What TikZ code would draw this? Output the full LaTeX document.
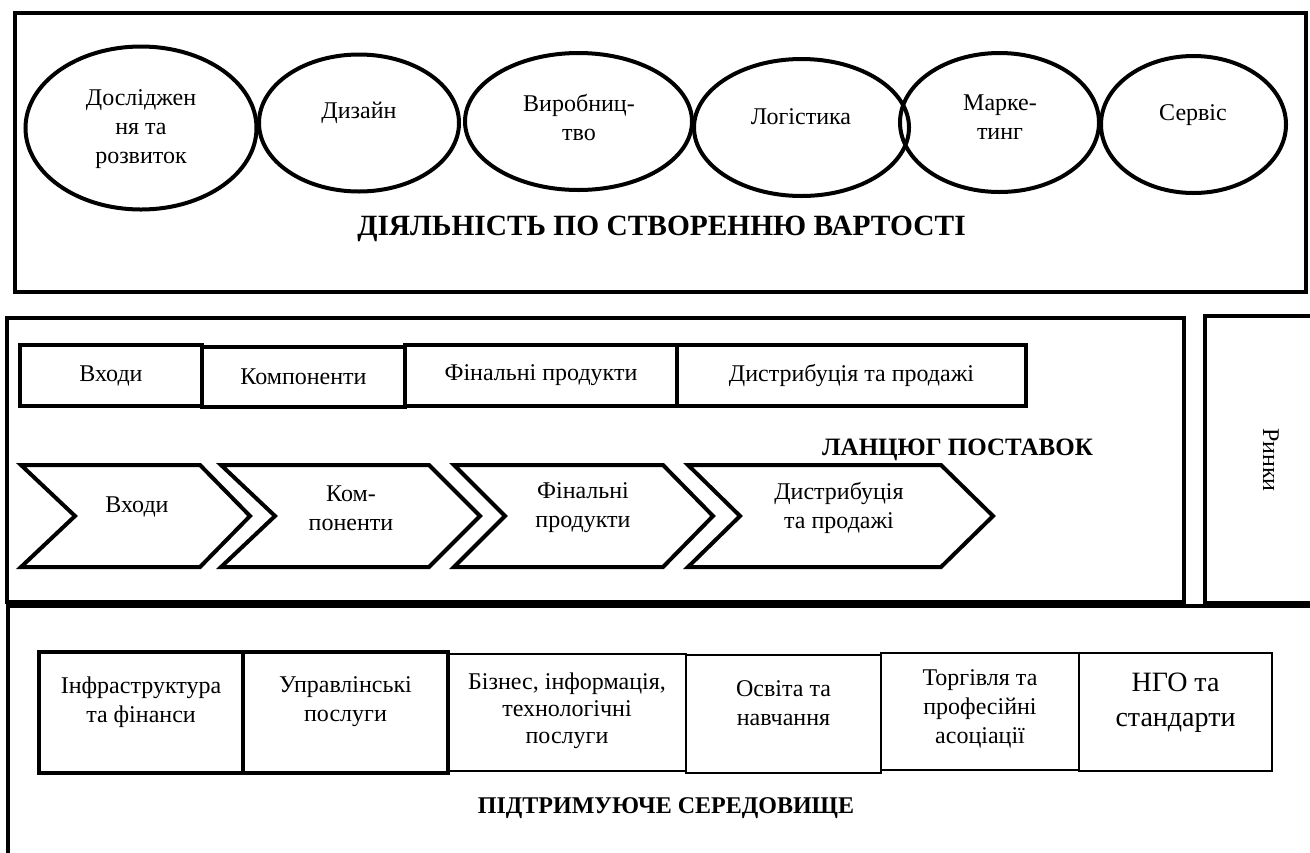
\documentclass[tikz,border=0pt]{standalone}
\usepackage{fontspec}
\setmainfont{Liberation Serif}
\usetikzlibrary{shapes.geometric}

\begin{document}
\begin{tikzpicture}[x=0.5pt, y=-0.5pt,
        font=\fontsize{12}{14.5}\selectfont,
        frame/.style={draw, line width=2.2pt, inner sep=0pt},
        oval/.style={draw, ellipse, line width=2pt, inner sep=0pt},
        stage/.style={draw, line width=2pt, inner sep=0pt},
        chev/.style={draw, line width=2pt, line join=miter},
        sbox/.style={draw, inner sep=0pt},
        txt/.style={align=center, inner sep=0pt},
        hd/.style={inner sep=0pt, font=\fontsize{12}{15}\selectfont\bfseries}]
        \useasboundingbox (0,0) rectangle (1310,852);
        \clip (0,0) rectangle (1310,852);
        % value creation activities
        \node[frame, minimum width=645.5pt, minimum height=139.5pt] (vchain) at (660.5,152.5) {};
        \node[oval, minimum width=115.5pt, minimum height=81.5pt] (rd) at (141,128) {};
        \node[oval, minimum width=100pt, minimum height=68.5pt] (design) at (359,123) {};
        \node[oval, minimum width=113.5pt, minimum height=68.5pt] (prod) at (578.5,121.5) {};
        \node[oval, minimum width=107.5pt, minimum height=68.5pt] (logist) at (801.5,127.5) {};
        \node[oval, minimum width=99.5pt, minimum height=69.5pt] (market) at (999.5,122.5) {};
        \node[oval, minimum width=92.5pt, minimum height=68.5pt] (serv) at (1193.5,124.5) {};
        \node[txt] (rd-t) at (141,129) {Досліджен\\ня та\\розвиток};
        \node[txt] (design-t) at (359,113) {Дизайн};
        \node[txt] (prod-t) at (579,118) {Виробниц-\\тво};
        \node[txt] (logist-t) at (801,117) {Логістика};
        \node[txt] (market-t) at (1000,117) {Марке-\\тинг};
        \node[txt] (serv-t) at (1193,115) {Сервіс};
        \node[hd, font=\fontsize{14.7}{17}\selectfont\bfseries] (vchain-t) at (661.5,229) {ДІЯЛЬНІСТЬ ПО СТВОРЕННЮ ВАРТОСТІ};

        % supply chain
        \node[frame, minimum width=588.5pt, minimum height=142pt] (supply) at (595.5,460) {};
        \node[frame, minimum width=67.5pt, minimum height=143.5pt] (markets) at (1272.5,459.5) {};
        \node[txt, rotate=-90] (markets-t) at (1271,460) {Ринки};
        \node[stage, minimum width=91pt, minimum height=30.5pt] (in-b) at (111,375.5) {Входи};
        \node[stage, minimum width=101.5pt, minimum height=30pt] (comp-b) at (303.5,377) {Компоненти};
        \node[stage, minimum width=136pt, minimum height=30.5pt] (fin-b) at (541,375.5) {Фінальні продукти};
        \node[stage, minimum width=174.5pt, minimum height=30.5pt] (dist-b) at (851.5,375.5) {Дистрибуція та продажі};
        \node[hd, font=\fontsize{12.5}{15}\selectfont\bfseries] (supply-t) at (957.5,450) {ЛАНЦЮГ ПОСТАВОК};
        \draw[chev] (21,465) -- (200,465) -- (250,516) -- (200,567) -- (21,567) -- (75,516) -- cycle;
        \draw[chev] (221,465) -- (429,465) -- (480,516) -- (429,567) -- (221,567) -- (275,516) -- cycle;
        \draw[chev] (454,465) -- (663,465) -- (713,516) -- (663,567) -- (454,567) -- (505,516) -- cycle;
        \draw[chev] (688,465) -- (941,465) -- (993,516) -- (941,567) -- (688,567) -- (740,516) -- cycle;
        \node[txt] (in-c) at (137,507) {Входи};
        \node[txt] (comp-c) at (351,508) {Ком-\\поненти};
        \node[txt] (fin-c) at (583,508) {Фінальні\\продукти};
        \node[txt] (dist-c) at (839,508) {Дистрибуція\\та продажі};

        % supporting environment
        \node[frame, minimum width=666pt, minimum height=137pt] (support) at (674,743) {};
        \node[sbox, line width=2pt, minimum width=102pt, minimum height=60.5pt] (infra) at (141,712.5) {};
        \node[sbox, line width=2pt, minimum width=102.5pt, minimum height=60.5pt] (mgmt) at (345.5,712.5) {};
        \node[sbox, line width=1pt, minimum width=119pt, minimum height=58.5pt] (biz) at (567,712.5) {};
        \node[sbox, line width=1.4pt, minimum width=97.5pt, minimum height=59pt] (edu) at (783.5,714) {};
        \node[sbox, line width=1pt, minimum width=99pt, minimum height=58.5pt] (trade) at (980,711.5) {};
        \node[sbox, line width=1pt, minimum width=96.5pt, minimum height=59pt] (ngo) at (1175.5,712) {};
        \node[txt] (infra-t) at (141,702) {Інфраструктура\\та фінанси};
        \node[txt] (mgmt-t) at (345.5,702) {Управлінські\\послуги};
        \node[txt, font=\fontsize{12}{13.5}\selectfont] (biz-t) at (567,711) {Бізнес, інформація,\\технологічні\\послуги};
        \node[txt] (edu-t) at (783.5,703) {Освіта та\\навчання};
        \node[txt] (trade-t) at (980,709) {Торгівля та\\професійні\\асоціації};
        \node[txt, font=\fontsize{14}{17.5}\selectfont] (ngo-t) at (1175.5,703) {НГО та\\стандарти};
        \node[hd] (support-t) at (666,808) {ПІДТРИМУЮЧЕ СЕРЕДОВИЩЕ};
\end{tikzpicture}
\end{document}
